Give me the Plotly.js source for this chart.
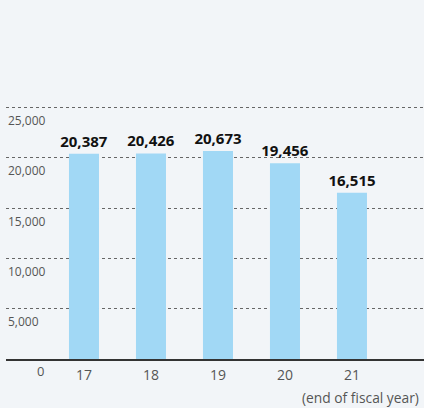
<!DOCTYPE html>
<html>
<head>
<meta charset="utf-8">
<script src="https://cdn.plot.ly/plotly-3.0.1.min.js"></script>
<style>html,body{margin:0;padding:0;background:#f2f5f8;}#chart{width:424px;height:408px;}</style>
</head>
<body>
<div id="chart"></div>
<script>
var years = ['17', '18', '19', '20', '21'];
var values = [20387, 20426, 20673, 19456, 16515];
var yTickVals = [0, 5000, 10000, 15000, 20000, 25000];
var yTickText = ['0', '5,000', '10,000', '15,000', '20,000', '25,000'];
var unitNote = '(end of fiscal year)';

var annotations = [];
yTickVals.forEach(function (v, i) {
  if (v === 0) {
    annotations.push({xref: 'paper', yref: 'y', x: 0, y: v, xanchor: 'center', yanchor: 'middle',
      xshift: 34, yshift: -12, text: yTickText[i], showarrow: false,
      font: {family: 'Open Sans, sans-serif', size: 13, color: '#555'}});
  } else {
    annotations.push({xref: 'paper', yref: 'y', x: 0, y: v, xanchor: 'left', yanchor: 'middle',
      xshift: 0, yshift: -13, text: yTickText[i], showarrow: false,
      font: {family: 'Open Sans, sans-serif', size: 12, color: '#555'}});
  }
});
annotations.push({xref: 'paper', yref: 'paper', x: 1, y: 0, xanchor: 'right', yanchor: 'middle',
  xshift: -3, yshift: -38, text: unitNote, showarrow: false,
  font: {family: 'Open Sans, sans-serif', size: 13.8, color: '#555'}});

var trace = {
  type: 'bar',
  x: years,
  y: values,
  width: 0.448,
  marker: {color: '#a1d8f5'},
  text: values.map(function (v) { return v.toLocaleString('en-US'); }),
  textposition: 'outside',
  constraintext: 'none',
  cliponaxis: false,
  textfont: {family: 'Open Sans, sans-serif', size: 15, color: '#111', weight: 'bold'},
  hoverinfo: 'none'
};

var layout = {
  width: 424, height: 408,
  margin: {l: 6, r: 0, t: 57, b: 49},
  paper_bgcolor: '#f2f5f8',
  plot_bgcolor: '#f2f5f8',
  showlegend: false,
  xaxis: {
    type: 'category',
    categoryorder: 'array', categoryarray: years,
    range: [-1.164, 5.075],
    showgrid: false, zeroline: false,
    showline: true, linecolor: '#333', linewidth: 1.5,
    ticks: '', ticklabelstandoff: 3,
    tickfont: {family: 'Open Sans, sans-serif', size: 14, color: '#555'}
  },
  yaxis: {
    range: [0, 30000],
    tickvals: yTickVals,
    showticklabels: false,
    showgrid: true, gridcolor: '#666', gridwidth: 1, griddash: '3px,3px',
    zeroline: false, ticks: ''
  },
  annotations: annotations
};

Plotly.newPlot('chart', [trace], layout, {displayModeBar: false, staticPlot: true});
</script>
</body>
</html>
